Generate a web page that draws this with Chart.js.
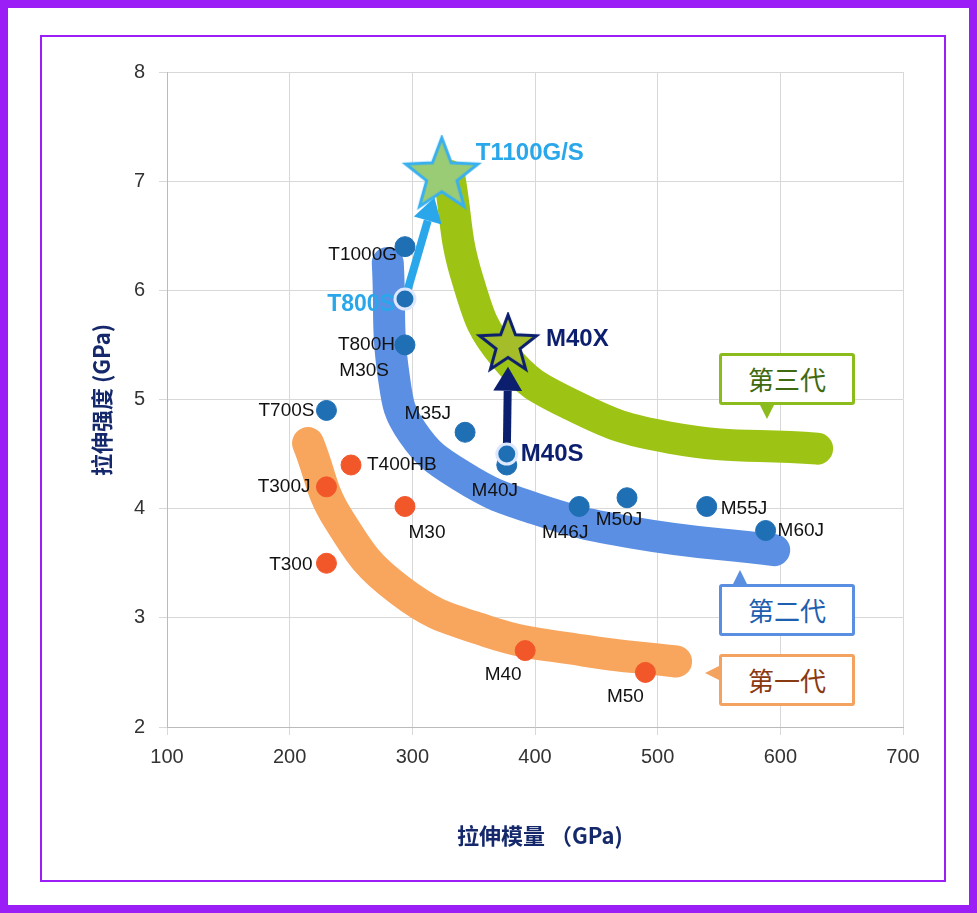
<!DOCTYPE html>
<html><head><meta charset="utf-8">
<script src="https://cdn.jsdelivr.net/npm/chart.js@4"></script>
<style>
body{margin:0;width:977px;height:913px;position:relative;background:#fff;font-family:"Liberation Sans",Arial,sans-serif;overflow:hidden}
#outer{position:absolute;left:0;top:0;width:961px;height:897px;border:8px solid #9a1ef5}
#inner{position:absolute;left:40px;top:35px;width:902px;height:843px;border:2px solid #9a1ef5}
canvas{position:absolute;left:0;top:0}
.gen{position:absolute;width:130px;height:46px;background:#fff;border:3px solid;font:26px "Noto Sans CJK SC";text-align:center;line-height:46px;border-radius:3px}
.tail{position:absolute;width:0;height:0;border-left:7px solid transparent;border-right:7px solid transparent}
</style></head><body>
<div id="outer"></div><div id="inner"></div>
<canvas id="c" width="977" height="913"></canvas>
<div class="gen" style="left:719px;top:353px;border-color:#8cbb1e;color:#3f6a10">第三代</div>
<div class="tail" style="left:760px;top:405px;border-top:14px solid #8cbb1e"></div>
<div class="gen" style="left:719px;top:584px;border-color:#5a8ee0;color:#1f5fb0">第二代</div>
<div class="tail" style="left:733px;top:570px;border-bottom:14px solid #5a8ee0"></div>
<div class="gen" style="left:719px;top:654px;border-color:#f4a260;color:#8a3a10">第一代</div>
<div class="tail" style="left:705px;top:666px;border-top:7px solid transparent;border-bottom:7px solid transparent;border-right:14px solid #f4a260;border-left:0"></div>
<script>
const xTicks = [100, 200, 300, 400, 500, 600, 700];
const yTicks = [2, 3, 4, 5, 6, 7, 8];

const gen2Names = ["T1000G", "T800S", "T800H", "T700S", "M35J", "M40J", "M40S", "M46J", "M50J", "M55J", "M60J"];
const gen2X = [294, 294, 294, 230, 343, 377, 377, 436, 475, 540, 588];
const gen2Y = [6.4, 5.92, 5.5, 4.9, 4.7, 4.4, 4.5, 4.02, 4.1, 4.02, 3.8];

const gen1Names = ["T400HB", "T300J", "M30", "T300", "M40", "M50"];
const gen1X = [250, 230, 294, 230, 392, 490];
const gen1Y = [4.4, 4.2, 4.02, 3.5, 2.7, 2.5];

const starNames = ["T1100G/S", "M40X"];
const starX = [324, 378];
const starY = [7.05, 5.5];

const band1X = [215, 240, 290, 360, 440, 515];
const band1Y = [4.6, 3.9, 3.25, 2.88, 2.7, 2.6];
const band2X = [280, 285, 300, 340, 400, 480, 595];
const band2Y = [6.25, 5.2, 4.7, 4.3, 4.0, 3.78, 3.62];
const band3X = [330, 345, 375, 430, 510, 630];
const band3Y = [7.05, 6.1, 5.4, 4.95, 4.65, 4.55];

const pts = (xs, ys) => xs.map((x, i) => ({ x: x, y: ys[i] }));

function makeStar(r, fill, stroke) {
    const c = document.createElement('canvas');
    c.width = c.height = r * 2 + 6;
    const g = c.getContext('2d');
    g.beginPath();
    for (let i = 0; i < 10; i++) {
        const a = -Math.PI / 2 + i * Math.PI / 5;
        const rr = i % 2 ? r * 0.42 : r;
        g.lineTo(r + 3 + rr * Math.cos(a), r + 3 + rr * Math.sin(a));
    }
    g.closePath();
    g.fillStyle = fill; g.fill();
    g.lineWidth = 3; g.strokeStyle = stroke; g.stroke();
    return c;
}

const labelStyle = {
    "T1000G": [-8, 8, 'right'], "T800S": [-10, 6, 'right'], "T800H": [-10, 0, 'right'],
    "T700S": [-12, 0, 'right'], "M35J": [-14, -18, 'right'], "M40J": [-12, 26, 'center'],
    "M40S": [14, 0, 'left'], "M46J": [-14, 26, 'center'], "M50J": [-8, 22, 'center'],
    "M55J": [14, 2, 'left'], "M60J": [12, 0, 'left'], "T400HB": [16, 0, 'left'],
    "T300J": [-16, 0, 'right'], "M30": [22, 26, 'center'], "T300": [-14, 2, 'right'],
    "M40": [-22, 24, 'center'], "M50": [-20, 24, 'center'],
    "T1100G/S": [34, -22, 'left'], "M40X": [38, -6, 'left']
};

let bandsDrawn = 0;
const extras = {
    id: 'extras',
    beforeDraw() { bandsDrawn = 0; },
    afterDatasetDraw(ch, args) {
        if (args.index > 2) return;
        bandsDrawn++;
        if (bandsDrawn < 3) return;
        const sx = ch.scales.x, sy = ch.scales.y, g = ch.ctx;
        function arrow(x1, y1, x2, y2, col, w, head) {
            const ax = sx.getPixelForValue(x1), ay = sy.getPixelForValue(y1);
            const bx = sx.getPixelForValue(x2), by = sy.getPixelForValue(y2);
            const ang = Math.atan2(by - ay, bx - ax);
            const ex = bx - head * Math.cos(ang), ey = by - head * Math.sin(ang);
            g.save();
            g.strokeStyle = col; g.fillStyle = col; g.lineWidth = w;
            g.beginPath(); g.moveTo(ax, ay); g.lineTo(ex, ey); g.stroke();
            g.beginPath(); g.moveTo(bx, by);
            g.lineTo(ex + head * 0.6 * Math.sin(ang), ey - head * 0.6 * Math.cos(ang));
            g.lineTo(ex - head * 0.6 * Math.sin(ang), ey + head * 0.6 * Math.cos(ang));
            g.closePath(); g.fill();
            g.restore();
        }
        arrow(gen2X[1], gen2Y[1], 318, 6.85, '#2aa7ea', 8, 24);
        arrow(gen2X[6], gen2Y[6], 378, 5.3, '#0c1f6e', 8, 24);
    },
    afterDatasetsDraw(ch) {
        const sx = ch.scales.x, sy = ch.scales.y, g = ch.ctx;
        g.save();
        function put(names, xs, ys) {
            names.forEach((n, i) => {
                const s = labelStyle[n];
                const px = sx.getPixelForValue(xs[i]) + s[0], py = sy.getPixelForValue(ys[i]) + s[1];
                g.textAlign = s[2]; g.textBaseline = 'middle';
                if (n === 'T800S') { g.font = 'bold 23px "Liberation Sans"'; g.fillStyle = '#2aa7ea'; }
                else if (n === 'T1100G/S') { g.font = 'bold 24px "Liberation Sans"'; g.fillStyle = '#2aa7ea'; }
                else if (n === 'M40X' || n === 'M40S') { g.font = 'bold 24px "Liberation Sans"'; g.fillStyle = '#0c1f6e'; }
                else { g.font = '19px "Liberation Sans"'; g.fillStyle = '#111'; }
                g.fillText(n, px, py);
            });
        }
        put(gen2Names, gen2X, gen2Y);
        put(gen1Names, gen1X, gen1Y);
        put(starNames, starX, starY);
        g.font = '19px "Liberation Sans"'; g.fillStyle = '#111'; g.textAlign = 'right';
        g.fillText('M30S', sx.getPixelForValue(294) - 16, sy.getPixelForValue(5.5) + 26);
        // axis titles
        g.fillStyle = '#14286b';
        g.font = 'bold 22px "Noto Sans CJK SC"';
        g.textAlign = 'center';
        g.fillText('拉伸模量 （GPa)', 540, 836);
        g.translate(102, 400); g.rotate(-Math.PI / 2);
        g.fillText('拉伸强度 (GPa)', 0, 0);
        g.restore();
    }
};

const band = (data, col) => ({
    data: data, showLine: true, borderColor: col, borderWidth: 32, tension: 0.45,
    borderCapStyle: 'round', pointRadius: 0, fill: false, order: 10
});
const dots = (data, col) => ({ data: data, backgroundColor: col, borderColor: col, pointRadius: 10, showLine: false, order: 2 });

new Chart(document.getElementById('c'), {
    type: 'scatter',
    data: {
        datasets: [
            band(pts(band1X, band1Y), '#f8a55e'),
            band(pts(band2X, band2Y), '#5b8fe3'),
            band(pts(band3X, band3Y), '#9dc414'),
            dots(pts(gen1X, gen1Y), '#f2572a'),
            Object.assign(dots(pts(gen2X, gen2Y), '#1f6fb5'), {
                pointBorderColor: gen2Names.map(n => n === 'T800S' || n === 'M40S' ? '#dde8ff' : '#1f6fb5'),
                pointBorderWidth: gen2Names.map(n => n === 'T800S' || n === 'M40S' ? 3 : 1)
            }),
            { data: pts(starX, starY), showLine: false, order: 0,
              pointStyle: [makeStar(38, '#9acb75', '#38b0f0'), makeStar(30, '#a6bd2a', '#0c1f6e')] }
        ]
    },
    options: {
        responsive: false, animation: false,
        layout: { padding: { top: 72, right: 74, left: 0, bottom: 0 } },
        plugins: { legend: { display: false }, tooltip: { enabled: false } },
        scales: {
            x: {
                min: 100, max: 700,
                afterBuildTicks: s => { s.ticks = xTicks.map(v => ({ value: v })); },
                afterFit: s => { s.height = 186; },
                grid: { color: '#d8d8d8' }, border: { color: '#bbb' },
                ticks: { color: '#333', font: { size: 20, family: 'Liberation Sans' }, padding: 10 }
            },
            y: {
                min: 2, max: 8,
                afterBuildTicks: s => { s.ticks = yTicks.map(v => ({ value: v })); },
                afterFit: s => { s.width = 167; },
                grid: { color: '#d8d8d8' }, border: { color: '#bbb' },
                ticks: { color: '#333', font: { size: 20, family: 'Liberation Sans' }, padding: 14 }
            }
        }
    },
    plugins: [extras]
});
</script>
</body></html>
